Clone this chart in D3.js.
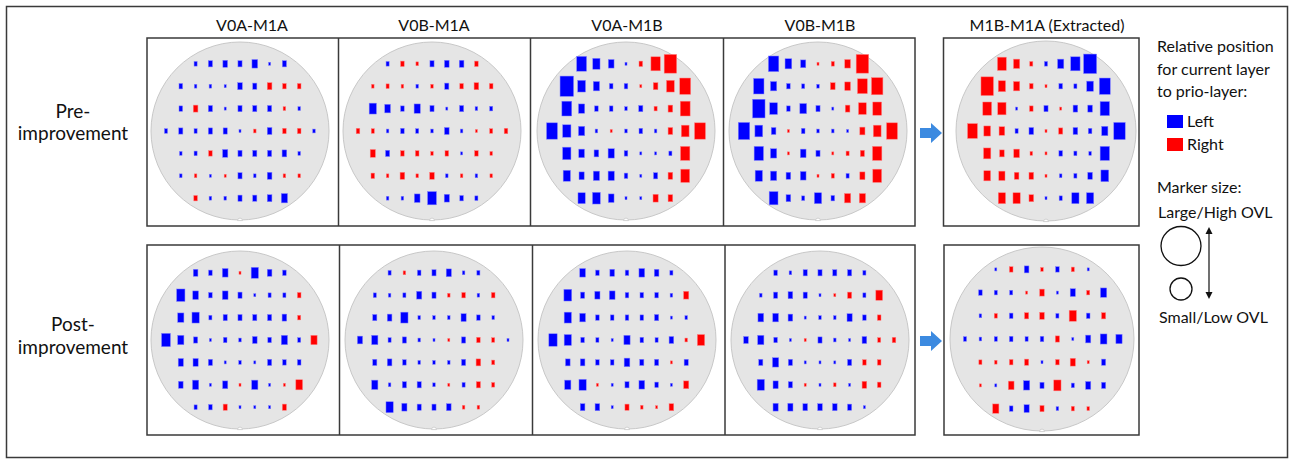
<!DOCTYPE html>
<html>
<head>
<meta charset="utf-8">
<script src="https://cdn.jsdelivr.net/npm/d3@7"></script>
<style>
  body { margin: 0; background: #fff; }
  svg { display: block; font-family: Lato, "Open Sans", sans-serif; }
</style>
</head>
<body>
<svg id="chart" width="1293" height="460"></svg>
<script>
// Column titles and row labels
var columnTitles = ["V0A-M1A", "V0B-M1A", "V0A-M1B", "V0B-M1B", "M1B-M1A (Extracted)"];
var rowLabels = [["Pre-", "improvement"], ["Post-", "improvement"]];

// Die columns used in each wafer row (top to bottom)
var rowCols = [[-3, 3], [-4, 4], [-4, 4], [-5, 5], [-4, 4], [-4, 4], [-3, 3]];

// Overlay per die: negative = left (blue), positive = right (red), magnitude = OVL
var preV0AM1A = [
  [-2, -3, -3.5, -3, -4.5, -1, -3],
  [-2.5, -1.5, -1.5, -1, -3.5, -3, 3.5, 2.5, 2.5],
  [-2.5, 3.5, -3, -1, -3, -3, -3, 1.5, -1.5],
  [-2, -3, -2, -3, -3, -1, 1.5, -3.5, 2.5, 2.5, -1.5],
  [-1.5, -2, 2.5, -4, -3, -3, -3, -3.5, -1.5],
  [-1.5, 1.5, -1, 1, -3, -1.5, -3.5, 1.5, 1.5],
  [2.5, -1.5, -1.5, -3, -3, -3.5, -5]
];
var preV0BM1A = [
  [-2, 2.5, 1.5, -3, -3.5, -3.5, 2.5],
  [1.5, 2, 1.5, -1.5, 1.5, -3, 2.5, 3.5, 2.5],
  [-6, -4.5, -2.5, -5, -3, -1, -3, -1.5, -2],
  [2.5, 2, -1.5, -2.5, -2, -1.5, -3.5, -1.5, 1, 2, 2.5],
  [4, -3, 2.5, 2.5, 1.5, 2.5, -1, 2.5, 1.5],
  [2.5, 1.5, 3.5, 1.5, 3.5, -1.5, 1.5, -1.5, 1.5],
  [-1.5, -1.5, -4.5, -7.5, -4, -2.5, -2]
];
var preV0AM1B = [
  [-8.5, -6, -4.5, -1, 2.5, 8, 11],
  [-12, -6.5, -5, -2.5, -2.5, 1, 3.5, 6.5, 9.5],
  [-8.5, -5, -2.5, -2.5, -1.5, -3, 2, 3.5, 8.5],
  [-9.5, -7, -5, -1.5, 1, -1.5, -2.5, -1.5, 3.5, 6.5, 9.5],
  [-7, -4.5, -3.5, -5, -2.5, -1, -1, -2, 8],
  [-6, -4, -5, -5, -2.5, -1, -3, 3.5, 7.5],
  [-6, -6.5, -4.5, -1, -1, 4, 3.5]
];
var preV0BM1B = [
  [-9, -5.5, -4, 1, 2, 4.5, 11],
  [-9, -5, -2.5, -2, -1.5, 3.5, 4.5, 8.5, 10],
  [-11, -6.5, -2.5, -5.5, -3, -1, 3.5, 6.5, 7.5],
  [-10, -6.5, -3.5, 1, -2.5, -1.5, -1.5, -1, 4, 6.5, 9.5],
  [-8, -5, 1, -4.5, -3, 1, 2, 3, 8],
  [-6, -5, -3.5, -4.5, 1, 2, -2, 4, 7.5],
  [-7.5, -3.5, -2, -6, -2.5, 5, 5]
];
var preM1BM1A = [
  [7.5, 5, 2, -2, -5, -8, -11.5],
  [11, 6, 5, 2.5, 1, -2.5, -2, -5.5, -9.5],
  [7.5, 7, -1, 2.5, -3, 1, -3.5, -3.5, -8],
  [8.5, 5.5, 4.5, -2, -3.5, 1, 3, -3.5, -2.5, -5, -10],
  [6, 3.5, 4.5, 1.5, 1, -2.5, -2, -1.5, -8],
  [5.5, 5, 3.5, 3.5, 1, -1.5, -2, -3.5, -6.5],
  [6, 6, 3.5, -1, -2, -6, -6]
];
var postV0AM1A = [
  [-3.5, -2.5, -4.5, 1, -6, -3.5, -2.5],
  [-7, -4.5, -2.5, -4.5, -3, -1, -2, -2, 2.5],
  [-5, -6, -2, -3, -3, -3, -3, -3.5, 2],
  [-7.5, -5, -3, -1, -2.5, -1.5, -3.5, -2.5, -5, -2, 5],
  [-4, -4, -3, -1, -1.5, -1, -3, -2.5, -2.5],
  [-3.5, -5, -1, -4, 1, -5, -1, 1, 5.5],
  [-2, -2.5, 3, -1, -1, -1, 3]
];
var postV0BM1A = [
  [-2, 1.5, -2.5, -3, -4, -1.5, -2],
  [-2, -1.5, -2, -4, -3, 1.5, 2.5, -1.5, 2.5],
  [-3, -3.5, -6, -1.5, -1.5, -1.5, -4, -2.5, -1.5],
  [-4, -5, -2, -3, -1.5, -1, 1, -3, 2.5, 2, -1],
  [-3, -3.5, -2.5, -1.5, -1.5, -1.5, -3, 3.5, 2],
  [-5, -1.5, -3, -3, -1.5, 1, -2, 3, 2],
  [-6, -4, -3, -3, -3.5, 1.5, 1.5]
];
var postV0AM1B = [
  [-4.5, -2.5, -3.5, -2.5, -4.5, -3.5, -2],
  [-6.5, -3, -4, -4.5, -2.5, -2.5, -2.5, -1.5, 4],
  [-6, -4.5, -2.5, -2.5, -2.5, -2.5, -3, -1, -1.5],
  [-7, -6, -2.5, -2, -1, -5, -2.5, -2, -3.5, 1.5, 6],
  [-3.5, -3.5, -2.5, -2.5, -4.5, -3, -3, 1, -3],
  [-5, -6, 1, -1, -3, -4.5, -2.5, -1, 4],
  [-3.5, -3.5, -1, 3, 1.5, 1, 3.5]
];
var postV0BM1B = [
  [-2.5, -1.5, -3, -3, -3, -3, -2],
  [-1.5, -3, -3.5, -3, -1, 1, 3, -2, 5.5],
  [-4.5, -4.5, -3.5, -1, -1.5, -1.5, -4, -2.5, 2.5],
  [-3.5, -5, -2.5, -1, 1, -3, -1.5, -1, -3.5, 2, 2.5],
  [-3, -5, -3, -1, -1, -1, -3, 2.5, 2.5],
  [-6, -4, -3, 1, -1, 1.5, -1, 3.5, 2.5],
  [-4, -4, -3.5, -3.5, -3.5, -3, -1]
];
var postM1BM1A = [
  [-1, 2.5, -3.5, 1.5, -2.5, 2, -1],
  [-2.5, -2, -2, 1, 3.5, -1, -4, 2, -5],
  [-1.5, 2, -2.5, 3, 3.5, -2, 6, -2.5, 3],
  [-2, -1.5, -2, -2.5, -2, -2.5, 3, -1, -4, -5.5, -5],
  [2, 1.5, 2.5, 3, -1, 2.5, 4, 1, -3],
  [1, -1, 4.5, -5, -3, 6, -2, -4, -3],
  [5, -2.5, -4, 3, -1.5, 2, 1.5]
];

var wafers = [
  { data: preV0AM1A, cx: 240, cy: 131, r: 89, dx: 14.8, dy: 22.4 },
  { data: preV0BM1A, cx: 432, cy: 131, r: 89, dx: 14.8, dy: 22.4 },
  { data: preV0AM1B, cx: 626, cy: 131, r: 89, dx: 14.8, dy: 22.4 },
  { data: preV0BM1B, cx: 818, cy: 131, r: 89, dx: 14.8, dy: 22.4 },
  { data: preM1BM1A, cx: 1046, cy: 131, r: 90, dx: 14.7, dy: 22.4 },
  { data: postV0AM1A, cx: 240, cy: 340, r: 89, dx: 14.8, dy: 22.4 },
  { data: postV0BM1A, cx: 434, cy: 340, r: 89, dx: 14.8, dy: 22.4 },
  { data: postV0AM1B, cx: 627, cy: 340, r: 89, dx: 14.8, dy: 22.4 },
  { data: postV0BM1B, cx: 820, cy: 340, r: 89, dx: 14.8, dy: 22.4 },
  { data: postM1BM1A, cx: 1042, cy: 339, r: 92, dx: 15.4, dy: 23.2 }
];

var svg = d3.select("#chart");
var lineColor = "#3a3a3a";

// outer frame
svg.append("rect")
  .attr("x", 6.5).attr("y", 6.5).attr("width", 1281).attr("height", 451)
  .attr("fill", "none").attr("stroke", lineColor).attr("stroke-width", 1.5);

// panel boxes
var boxes = [
  { x0: 147, y0: 38, x1: 915, y1: 226, dividers: [338.5, 530.5, 723.5] },
  { x0: 147, y0: 245, x1: 915, y1: 435, dividers: [339.5, 532.5, 725] },
  { x0: 943.5, y0: 38, x1: 1139, y1: 226, dividers: [] },
  { x0: 944, y0: 245, x1: 1139, y1: 435, dividers: [] }
];
boxes.forEach(function(b) {
  svg.append("rect")
    .attr("x", b.x0).attr("y", b.y0)
    .attr("width", b.x1 - b.x0).attr("height", b.y1 - b.y0)
    .attr("fill", "none").attr("stroke", lineColor).attr("stroke-width", 1.5);
  b.dividers.forEach(function(x) {
    svg.append("line")
      .attr("x1", x).attr("x2", x).attr("y1", b.y0).attr("y2", b.y1)
      .attr("stroke", lineColor).attr("stroke-width", 1.5);
  });
});

// marker size scale (OVL -> marker width in px)
var sizeScale = d3.scaleLinear().domain([0, 12]).range([1, 13.5]);
var colorScale = d3.scaleThreshold().domain([0]).range(["#0000ff", "#ff0000"]);

wafers.forEach(function(w) {
  var g = svg.append("g");
  g.append("circle")
    .attr("cx", w.cx).attr("cy", w.cy).attr("r", w.r)
    .attr("fill", "#e5e5e5").attr("stroke", "#c8c8c8").attr("stroke-width", 1);
  // notch: small half-circle cut into the bottom edge
  var ny = w.cy + w.r;
  g.append("path")
    .attr("d", "M" + (w.cx - 2.5) + "," + (ny + 0.6) + "A2.5,2.5 0 0 1 " + (w.cx + 2.5) + "," + (ny + 0.6) + "Z")
    .attr("fill", "#fff").attr("stroke", "#c8c8c8").attr("stroke-width", 0.8);

  var xScale = d3.scaleLinear().domain([-5, 5]).range([w.cx - 5 * w.dx, w.cx + 5 * w.dx]);
  var yScale = d3.scaleLinear().domain([0, 6]).range([w.cy - 3 * w.dy, w.cy + 3 * w.dy]);

  var dies = [];
  w.data.forEach(function(row, ri) {
    row.forEach(function(v, ci) {
      dies.push({ row: ri, col: rowCols[ri][0] + ci, v: v });
    });
  });

  g.selectAll("rect.die")
    .data(dies)
    .enter()
    .append("rect")
    .attr("class", "die")
    .attr("x", function(d) { return xScale(d.col) - sizeScale(Math.abs(d.v)) / 2; })
    .attr("y", function(d) { return yScale(d.row) - sizeScale(Math.abs(d.v)) * 0.75; })
    .attr("width", function(d) { return sizeScale(Math.abs(d.v)); })
    .attr("height", function(d) { return sizeScale(Math.abs(d.v)) * 1.5; })
    .attr("fill", function(d) { return colorScale(d.v); })
    .attr("stroke", function(d) { return d.v < 0 ? "#8080ff" : "#ff8080"; })
    .attr("stroke-width", 0.5);
});

// column titles
var titleX = [252, 434, 627, 820, 1047];
svg.selectAll("text.title")
  .data(columnTitles)
  .enter()
  .append("text")
  .attr("class", "title")
  .attr("x", function(d, i) { return titleX[i]; })
  .attr("y", 31)
  .attr("text-anchor", "middle")
  .attr("font-size", 16)
  .attr("fill", "#111")
  .text(function(d) { return d; });

// row labels
var rowLabelY = [118, 140, 331, 354];
rowLabels.forEach(function(lines, i) {
  lines.forEach(function(t, j) {
    svg.append("text")
      .attr("x", 73).attr("y", rowLabelY[i * 2 + j])
      .attr("text-anchor", "middle")
      .attr("font-size", 19)
      .attr("fill", "#111")
      .text(t);
  });
});

// block arrows pointing to extracted maps
[133, 341].forEach(function(cy) {
  svg.append("path")
    .attr("d", "M920," + (cy - 5) + "L931," + (cy - 5) + "L931," + (cy - 10) +
      "L942," + cy + "L931," + (cy + 10) + "L931," + (cy + 5) + "L920," + (cy + 5) + "Z")
    .attr("fill", "#3c8ae0");
});

// legend
var legend = svg.append("g").attr("font-size", 16).attr("fill", "#111");
["Relative position", "for current layer", "to prio-layer:"].forEach(function(t, i) {
  legend.append("text").attr("x", 1157).attr("y", 52 + i * 22.5).text(t);
});
[["Left", "#0000ff", 127], ["Right", "#ff0000", 150]].forEach(function(e) {
  legend.append("rect").attr("x", 1167).attr("y", e[2] - 12).attr("width", 16).attr("height", 13)
    .attr("fill", e[1]);
  legend.append("text").attr("x", 1187).attr("y", e[2]).text(e[0]);
});
legend.append("text").attr("x", 1157).attr("y", 193).text("Marker size:");
legend.append("text").attr("x", 1158).attr("y", 218).text("Large/High OVL");
legend.append("text").attr("x", 1159).attr("y", 323).text("Small/Low OVL");
legend.append("ellipse").attr("cx", 1181).attr("cy", 246).attr("rx", 20).attr("ry", 19.5)
  .attr("fill", "none").attr("stroke", "#111").attr("stroke-width", 1.3);
legend.append("circle").attr("cx", 1181).attr("cy", 289).attr("r", 11)
  .attr("fill", "none").attr("stroke", "#111").attr("stroke-width", 1.3);
legend.append("line").attr("x1", 1209).attr("x2", 1209).attr("y1", 232).attr("y2", 294)
  .attr("stroke", "#111").attr("stroke-width", 1.2);
legend.append("path").attr("d", "M1209,227L1205.5,234L1212.5,234Z").attr("fill", "#111");
legend.append("path").attr("d", "M1209,299L1205.5,292L1212.5,292Z").attr("fill", "#111");
</script>
</body>
</html>
